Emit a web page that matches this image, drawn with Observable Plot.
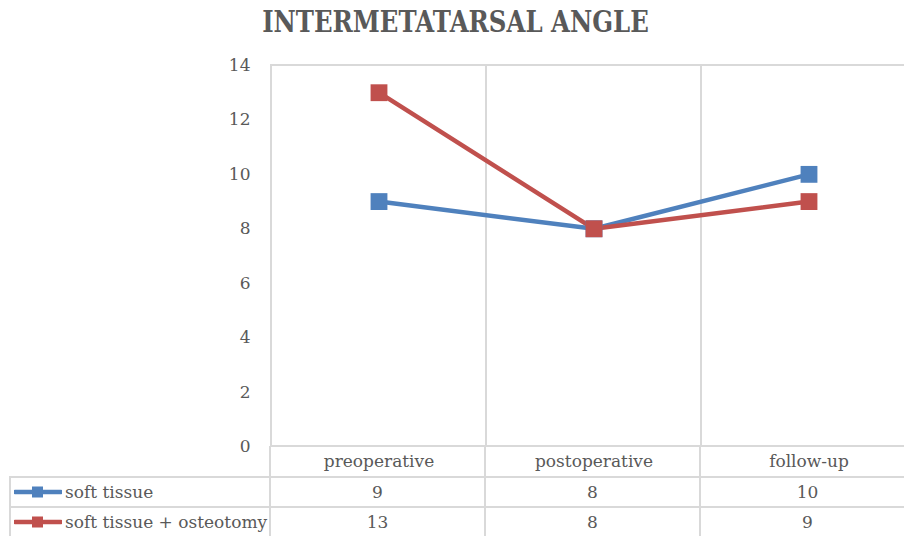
<!DOCTYPE html>
<html>
<head>
<meta charset="utf-8">
<script src="https://cdn.jsdelivr.net/npm/d3@7"></script>
<script src="https://cdn.jsdelivr.net/npm/@observablehq/plot@0.6"></script>
<style>
  html, body { margin: 0; padding: 0; background: #ffffff; overflow: hidden; }
  #wrap { position: relative; width: 904px; height: 536px; overflow: hidden; background: #fff; }
  #title { position: absolute; left: 0; top: 4px; width: 911px; text-align: center;
           font-family: "DejaVu Serif", serif; font-weight: bold; font-size: 24.4px; color: #595959;
           transform: scaleY(1.2); transform-origin: 50% 0; white-space: nowrap; }
  #chart { position: absolute; left: 0; top: 50px; width: 930px; }
  #chart svg { max-width: none !important; }
  .cell { position: absolute; font-family: "DejaVu Serif", serif; font-size: 17px; color: #595959;
          white-space: nowrap; line-height: 30px; }
  .hl, .vl { position: absolute; background: #d9d9d9; }
</style>
</head>
<body>
<div id="wrap">
  <div id="title">INTERMETATARSAL ANGLE</div>
  <div id="chart"></div>
  <div id="table"></div>
</div>
<script>
const categories = ["preoperative", "postoperative", "follow-up"];
const seriesNames = ["soft tissue", "soft tissue + osteotomy"];
const softTissue = [9, 8, 10];
const softTissueOsteotomy = [13, 8, 9];
const seriesColors = ["#4f81bd", "#c0504d"];
const yTicks = [0, 2, 4, 6, 8, 10, 12, 14];

const seriesValues = [softTissue, softTissueOsteotomy];
const data = [];
seriesNames.forEach((s, si) => categories.forEach((c, ci) => data.push({series: s, category: c, value: seriesValues[si][ci]})));

const chartTop = 50;
const chart = Plot.plot({
  width: 930,
  height: 427,
  marginLeft: 270,
  marginRight: 14,
  marginTop: 15,
  marginBottom: 31,
  style: {fontFamily: "DejaVu Serif", fontSize: "17px", color: "#595959", background: "transparent", overflow: "visible", maxWidth: "none"},
  x: {type: "band", domain: categories, padding: 0, axis: null, label: null},
  y: {domain: [0, 14], axis: null, label: null},
  color: {domain: seriesNames, range: seriesColors},
  marks: [
    Plot.cell(categories, {x: d => d, fill: "none", stroke: "#d9d9d9", strokeWidth: 2}),
    Plot.axisY(yTicks, {tickSize: 0, tickPadding: 20, fontSize: 17, fill: "#595959", label: null}),
    Plot.axisX({tickSize: 0, tickPadding: 8, fontSize: 17, fill: "#595959", label: null}),
    Plot.line(data, {x: "category", y: "value", z: "series", stroke: "series", strokeWidth: 4.5}),
    Plot.dot(data, {x: "category", y: "value", fill: "series", symbol: "square", r: 9.5})
  ]
});
chart.style.maxWidth = "none";
document.getElementById("chart").appendChild(chart);

// data table under the chart, aligned to the Plot x scale
const xs = chart.scale("x");
const ys = chart.scale("y");
const bw = xs.bandwidth;
const bandStart = c => xs.range[0] + categories.indexOf(c) * bw;
const tableTop = chartTop + Math.max(...ys.range); // y of value 0
const headerH = 31, rowH = 30;
const labelLeft = 10;
const tbl = d3.select("#table");
const rightEdge = xs.range[1];

// horizontal lines
for (let r = 0; r <= seriesNames.length; r++) {
  const y = tableTop + headerH + r * rowH;
  tbl.append("div").attr("class", "hl")
    .style("left", labelLeft + "px").style("top", (y - 1) + "px")
    .style("width", (rightEdge - labelLeft) + "px").style("height", "2px");
}
// vertical lines
const bottom = tableTop + headerH + seriesNames.length * rowH;
tbl.append("div").attr("class", "vl")
  .style("left", (labelLeft - 1) + "px").style("top", (tableTop + headerH - 1) + "px")
  .style("width", "2px").style("height", (bottom - tableTop - headerH + 2) + "px");
categories.concat([null]).forEach((c, i) => {
  const x = c ? bandStart(c) : rightEdge;
  tbl.append("div").attr("class", "vl")
    .style("left", (x - 1) + "px").style("top", tableTop + "px")
    .style("width", "2px").style("height", (bottom - tableTop + 1) + "px");
});
// rows
seriesNames.forEach((s, si) => {
  const y = tableTop + headerH + si * rowH;
  const lab = tbl.append("div").attr("class", "cell")
    .style("left", (labelLeft + 4) + "px").style("top", y + "px").style("height", rowH + "px");
  lab.append("svg").attr("width", 48).attr("height", 14)
    .style("vertical-align", "middle").style("margin-right", "3px").style("position", "relative").style("top", "-2px")
    .call(svg => {
      svg.append("line").attr("x1", 1).attr("x2", 47).attr("y1", 7).attr("y2", 7)
        .attr("stroke", seriesColors[si]).attr("stroke-width", 4.5).attr("stroke-linecap", "round");
      svg.append("rect").attr("x", 18).attr("y", 1.5).attr("width", 11).attr("height", 11)
        .attr("fill", seriesColors[si]);
    });
  lab.append("span").text(s);
  categories.forEach((c, ci) => {
    tbl.append("div").attr("class", "cell")
      .style("left", bandStart(c) + "px").style("top", y + "px")
      .style("width", bw + "px").style("text-align", "center")
      .text(seriesValues[si][ci]);
  });
});
</script>
</body>
</html>
